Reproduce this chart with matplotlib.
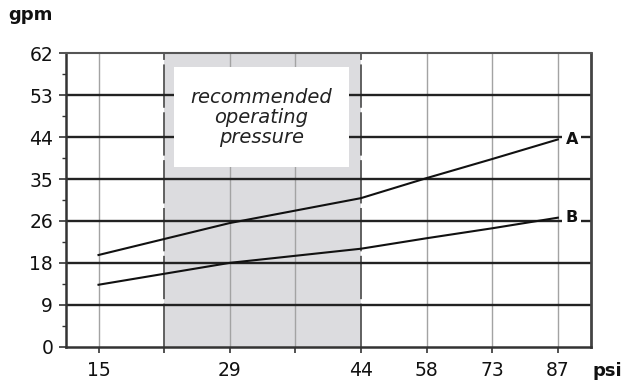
import numpy as np
import matplotlib
matplotlib.use("Agg")
import matplotlib.pyplot as plt
from matplotlib.patches import Rectangle

# ---- data ----
psi_ticks = [15, 29, 44, 58, 73, 87]
gpm_ticks = [0, 9, 18, 26, 35, 44, 53, 62]
psi = [15, 29, 44, 58, 73, 87]
flow_A = [19.5, 25.6, 30.9, 35.2, 39.3, 43.5]
flow_B = [13.3, 18.0, 20.7, 22.7, 24.6, 26.7]
series_labels = ["A", "B"]
box_text = "recommended\noperating\npressure"
recommended_range = (22, 44)  # psi

# ---- piecewise scales (evenly spaced tick positions) ----
x_vals = np.array(psi_ticks, float)
x_pos = np.array([0, 2, 4, 5, 6, 7], float)
y_vals = np.array(gpm_ticks, float)
y_pos = np.arange(len(gpm_ticks), dtype=float)


def make_funcs(vals, pos):
    sl_lo = (pos[1] - pos[0]) / (vals[1] - vals[0])
    sl_hi = (pos[-1] - pos[-2]) / (vals[-1] - vals[-2])

    def fwd(v):
        v = np.asarray(v, float)
        out = np.interp(v, vals, pos)
        out = np.where(v < vals[0], pos[0] + (v - vals[0]) * sl_lo, out)
        out = np.where(v > vals[-1], pos[-1] + (v - vals[-1]) * sl_hi, out)
        return out

    def inv(p):
        p = np.asarray(p, float)
        out = np.interp(p, pos, vals)
        out = np.where(p < pos[0], vals[0] + (p - pos[0]) / sl_lo, out)
        out = np.where(p > pos[-1], vals[-1] + (p - pos[-1]) / sl_hi, out)
        return out

    return fwd, inv


xf, xi = make_funcs(x_vals, x_pos)
yf, yi = make_funcs(y_vals, y_pos)

plt.rcParams['font.family'] = ['DejaVu Sans']
fig = plt.figure(figsize=(6.24, 3.85), dpi=100)
ax = fig.add_axes([0.1053, 0.0995, 0.8413, 0.7621])
ax.set_xscale('function', functions=(xf, xi))
ax.set_yscale('function', functions=(yf, yi))
ax.set_xlim(float(xi(-0.5)), float(xi(7.5)))
ax.set_ylim(0, 62)

# shading
ax.axvspan(recommended_range[0], recommended_range[1], color='#dcdcdf', zorder=0, lw=0)

# vertical grid lines
grid_x = list(xi([0, 2, 3, 5, 6, 7]))
for gx in grid_x:
    ax.axvline(gx, color='#a3a3a3', lw=1.0, zorder=1)
for gx in recommended_range:
    ax.axvline(gx, color='#555555', lw=1.3, zorder=1.5, dashes=(24, 2.5))

# horizontal grid lines
for gy in gpm_ticks[1:-1]:
    ax.axhline(gy, color='#222222', lw=1.7, zorder=2)

# text box
ax.add_patch(Rectangle((0.206, 0.613), 0.334, 0.341, transform=ax.transAxes,
                       facecolor='white', edgecolor='none', zorder=3))
ax.text(0.373, 0.781, box_text, transform=ax.transAxes, ha='center', va='center',
        fontsize=14, style='italic', color='#222222', linespacing=1.06, zorder=4)

# data lines
for vals, lab in zip([flow_A, flow_B], series_labels):
    ax.plot(psi, vals, color='#111111', lw=1.5, zorder=5)
    ax.annotate(lab, xy=(psi[-1], vals[-1]), xytext=(5.5, 0), textcoords='offset points',
                ha='left', va='center', fontsize=11.5, fontweight='bold', color='#111111',
                bbox=dict(boxstyle='square,pad=0.2', fc='white', ec='none'), zorder=6)

# ticks
ax.set_xticks(psi_ticks)
ax.set_xticklabels([str(v) for v in psi_ticks])
ax.set_xticks(list(xi([1, 3])), minor=True)
ax.set_yticks(gpm_ticks)
ax.set_yticklabels([str(v) for v in gpm_ticks])
ax.set_yticks(list(yi(np.arange(0.5, 7, 1.0))), minor=True)
ax.tick_params(axis='x', which='both', direction='out', length=4, width=1.2, color='#333333',
               labelsize=13.5, pad=6, labelcolor='#111111')
ax.tick_params(axis='y', which='major', direction='out', length=5, width=1.2, color='#333333',
               labelsize=13.5, pad=4, labelcolor='#111111')
ax.tick_params(axis='y', which='minor', direction='out', length=3, width=1.0, color='#333333')

for side, lw, c in [('left', 1.8, '#333333'), ('bottom', 1.8, '#333333'),
                    ('right', 2.0, '#444444'), ('top', 1.5, '#555555')]:
    ax.spines[side].set_linewidth(lw)
    ax.spines[side].set_color(c)
    ax.spines[side].set_zorder(7)

fig.text(0.013, 0.948, 'gpm', fontsize=13, fontweight='bold', color='#111111',
         ha='left', va='baseline')
fig.text(0.949, 0.023, 'psi', fontsize=13, fontweight='bold', color='#111111',
         ha='left', va='baseline')

fig.savefig('out.png', dpi=100)
